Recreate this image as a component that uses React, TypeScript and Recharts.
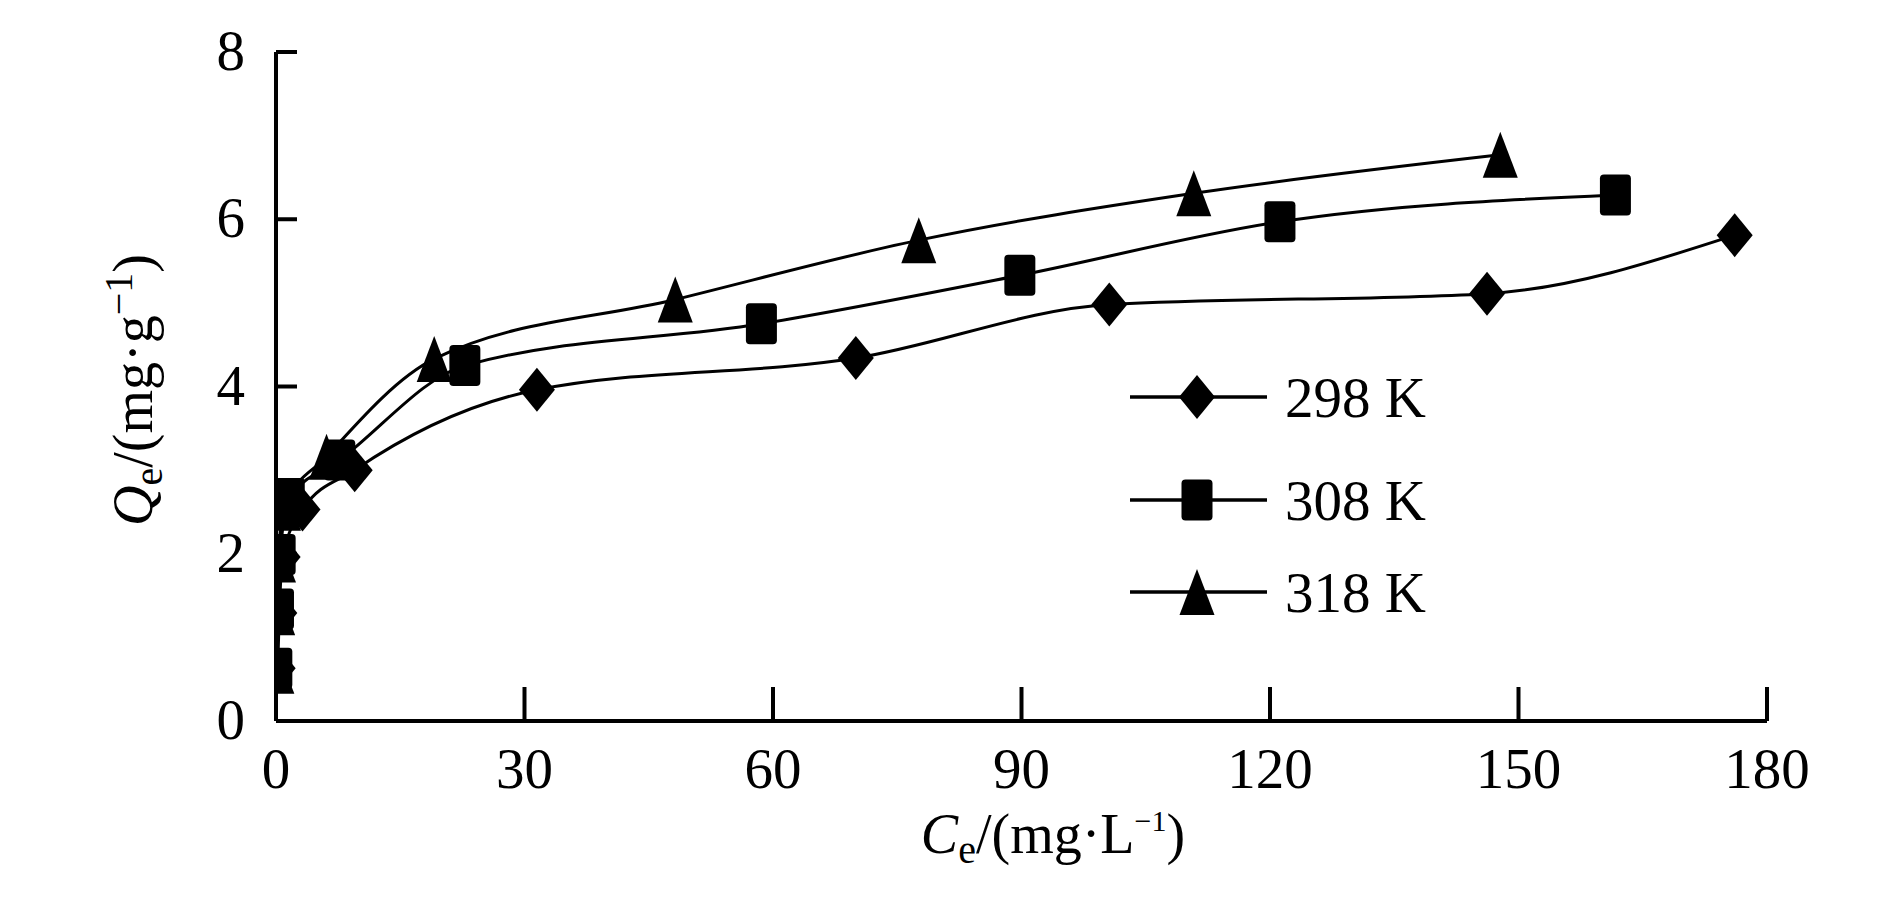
import { CartesianGrid, Line, LineChart, XAxis, YAxis } from 'recharts';

const FONT = '"Liberation Serif", "Times New Roman", serif';

// 温度 / series names
const SERIES_NAMES = ['298 K', '308 K', '318 K'];

const X_TICKS = [0, 30, 60, 90, 120, 150, 180];
const Y_TICKS = [0, 2, 4, 6, 8];

// Ce (mg/L) and Qe (mg/g)
const ce298 = [0.2, 0.4, 0.8, 3.2, 9.5, 31.5, 70, 100.6, 146.2, 176.1];
const qe298 = [0.63, 1.29, 1.96, 2.53, 3.0, 3.96, 4.34, 4.98, 5.11, 5.81];

const ce308 = [0.1, 0.3, 0.5, 1.6, 7.7, 22.8, 58.6, 89.8, 121.2, 161.7];
const qe308 = [0.63, 1.34, 1.99, 2.66, 3.12, 4.25, 4.75, 5.33, 5.97, 6.29];

const ce318 = [0.1, 0.2, 0.3, 0.9, 6.1, 19.1, 48.2, 77.6, 110.8, 147.8];
const qe318 = [0.6, 1.3, 1.93, 2.55, 3.16, 4.33, 5.04, 5.75, 6.31, 6.77];

const toPoints = (xs: number[], ys: number[]) =>
  xs.map((x, i) => ({ ce: x, qe: ys[i] }));

const data298 = toPoints(ce298, qe298);
const data308 = toPoints(ce308, qe308);
const data318 = toPoints(ce318, qe318);

type ShapeProps = { cx: number; cy: number };

const Diamond = ({ cx, cy }: ShapeProps) => (
  <path
    d={`M${cx},${cy - 22} L${cx + 18},${cy} L${cx},${cy + 22} L${cx - 18},${cy} Z`}
    fill='#000'
  />
);

const Square = ({ cx, cy }: ShapeProps) => (
  <rect x={cx - 15.5} y={cy - 20.5} width={31} height={41} rx={4} fill='#000' />
);

const Triangle = ({ cx, cy }: ShapeProps) => (
  <path
    d={`M${cx},${cy - 23} L${cx + 17.5},${cy + 23} L${cx - 17.5},${cy + 23} Z`}
    fill='#000'
  />
);

const renderDot = (Shape: (p: ShapeProps) => JSX.Element) => (props: any) => (
  <g key={`dot-${props.index}`}>
    <Shape cx={props.cx} cy={props.cy} />
  </g>
);

const YTick = ({ x, y, payload }: any) => (
  <g>
    {payload.value !== 0 && (
      <line x1={x} x2={x + 21} y1={y} y2={y} stroke='#000' strokeWidth={4} />
    )}
    <text x={x - 31} y={y + 18} textAnchor='end' fontSize={57} fontFamily={FONT} fill='#000'>
      {payload.value}
    </text>
  </g>
);

const XTick = ({ x, y, payload }: any) => (
  <g>
    {payload.value !== 0 && (
      <line x1={x} x2={x} y1={y} y2={y - 34} stroke='#000' strokeWidth={4} />
    )}
    <text x={x} y={y + 67} textAnchor='middle' fontSize={57} fontFamily={FONT} fill='#000'>
      {payload.value}
    </text>
  </g>
);

const LEGEND_ROWS = [397, 500, 592];
const LEGEND_SHAPES = [Diamond, Square, Triangle];

const Overlay = () => (
  <svg
    width={1887}
    height={897}
    style={{ position: 'absolute', left: 0, top: 0, pointerEvents: 'none' }}
  >
    {/* y axis title */}
    <text
      transform='translate(152, 390) rotate(-90)'
      textAnchor='middle'
      fontSize={56}
      fontFamily={FONT}
      fill='#000'
    >
      <tspan fontStyle='italic'>Q</tspan>
      <tspan fontSize={40} dy={10}>e</tspan>
      <tspan dy={-10}>/(mg·g</tspan>
      <tspan fontSize={40} dy={-20}>−1</tspan>
      <tspan dy={20}>)</tspan>
    </text>

    {/* x axis title */}
    <text x={1053} y={853} textAnchor='middle' fontSize={56} fontFamily={FONT} fill='#000'>
      <tspan fontStyle='italic'>C</tspan>
      <tspan fontSize={40} dy={10}>e</tspan>
      <tspan dy={-10}>/(mg·L</tspan>
      <tspan fontSize={30} dy={-22}>−1</tspan>
      <tspan dy={22}>)</tspan>
    </text>

    {/* legend */}
    {SERIES_NAMES.map((name, i) => {
      const Shape = LEGEND_SHAPES[i];
      const y = LEGEND_ROWS[i];
      return (
        <g key={name}>
          <line x1={1130} x2={1267} y1={y} y2={y} stroke='#000' strokeWidth={3.5} />
          <Shape cx={1197} cy={y} />
          <text x={1285} y={y + 20} fontSize={57} fontFamily={FONT} fill='#000'>
            {name}
          </text>
        </g>
      );
    })}
  </svg>
);

export default function App() {
  return (
    <div
      style={{
        position: 'absolute',
        left: 0,
        top: 0,
        width: 1887,
        height: 897,
        background: '#fff',
      }}
    >
      <LineChart
        width={1887}
        height={897}
        margin={{ top: 52, right: 120, bottom: 0, left: 0 }}
      >
        <CartesianGrid stroke='none' fill='none' />
        <XAxis
          type='number'
          dataKey='ce'
          domain={[0, 180]}
          ticks={X_TICKS}
          allowDataOverflow
          height={176}
          tickSize={0}
          tickMargin={0}
          tickLine={false}
          tick={<XTick />}
          axisLine={{ stroke: '#000', strokeWidth: 4 }}
        />
        <YAxis
          type='number'
          dataKey='qe'
          domain={[0, 8]}
          ticks={Y_TICKS}
          width={276}
          tickSize={0}
          tickMargin={0}
          tickLine={false}
          tick={<YTick />}
          axisLine={{ stroke: '#000', strokeWidth: 4 }}
        />

        {/* 318 K first, 308 K last so the squares sit on top */}
        <Line
          data={data318}
          dataKey='qe'
          name={SERIES_NAMES[2]}
          type='monotone'
          stroke='#000'
          strokeWidth={3}
          dot={renderDot(Triangle)}
          isAnimationActive={false}
        />
        <Line
          data={data298}
          dataKey='qe'
          name={SERIES_NAMES[0]}
          type='monotone'
          stroke='#000'
          strokeWidth={3}
          dot={renderDot(Diamond)}
          isAnimationActive={false}
        />
        <Line
          data={data308}
          dataKey='qe'
          name={SERIES_NAMES[1]}
          type='monotone'
          stroke='#000'
          strokeWidth={3}
          dot={renderDot(Square)}
          isAnimationActive={false}
        />
      </LineChart>
      <Overlay />
    </div>
  );
}
